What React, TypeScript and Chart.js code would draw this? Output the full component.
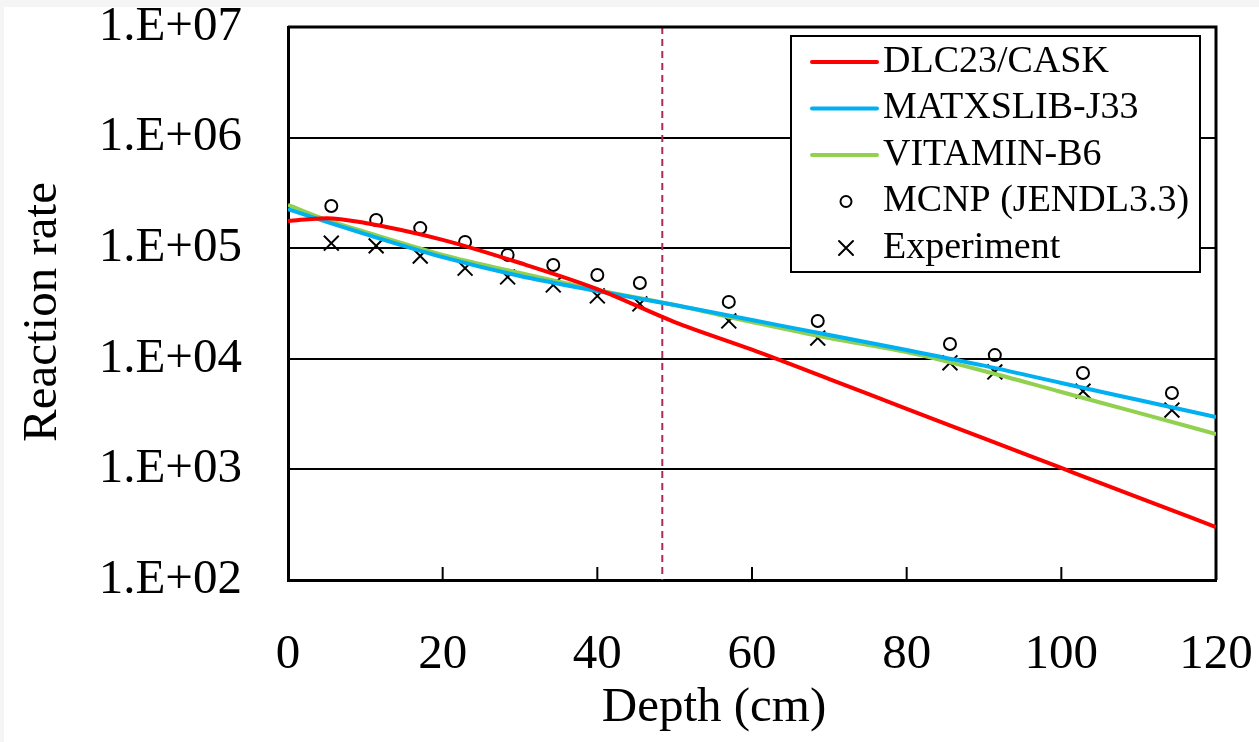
import React, { useEffect, useRef } from 'react';
import { Chart, registerables } from 'chart.js';

Chart.register(...registerables);

// ---------- data ----------
const lineDepths = [0, 5, 10, 20, 30, 40, 50, 60, 70, 80, 90, 100, 110, 120];
const dlc23Cask = [1.76e5, 1.87e5, 1.69e5, 1.19e5, 7.35e4, 4.27e4, 2.15e4, 1.21e4, 6.56e3, 3.53e3, 1.91e3, 1.03e3, 556, 301];
const matxslibJ33 = [2.26e5, 1.73e5, 1.34e5, 8.3e4, 5.6e4, 4.1e4, 3.06e4, 2.24e4, 1.64e4, 1.2e4, 8.67e3, 6.04e3, 4.24e3, 2.98e3];
const vitaminB6 = [2.46e5, 1.8e5, 1.4e5, 8.7e4, 5.97e4, 4.19e4, 3.06e4, 2.15e4, 1.54e4, 1.15e4, 7.76e3, 5.01e3, 3.24e3, 2.09e3];

const pointDepths = [5.6, 11.4, 17.1, 22.9, 28.4, 34.3, 40.0, 45.5, 57.0, 68.5, 85.6, 91.4, 102.8, 114.3];
const mcnpJendl33 = [2.41e5, 1.8e5, 1.52e5, 1.14e5, 8.7e4, 7.05e4, 5.73e4, 4.84e4, 3.27e4, 2.2e4, 1.36e4, 1.08e4, 7.45e3, 4.91e3];
const experiment = [1.11e5, 1.05e5, 8.5e4, 6.6e4, 5.5e4, 4.65e4, 3.7e4, 3.13e4, 2.2e4, 1.54e4, 9.2e3, 7.6e3, 5.1e3, 3.44e3];

const seriesLabels = ['DLC23/CASK', 'MATXSLIB-J33', 'VITAMIN-B6', 'MCNP (JENDL3.3)', 'Experiment'];
const xTicks = [0, 20, 40, 60, 80, 100, 120];
const yTicks = [1e2, 1e3, 1e4, 1e5, 1e6, 1e7];
const yTickLabels = ['1.E+02', '1.E+03', '1.E+04', '1.E+05', '1.E+06', '1.E+07'];
const dividerDepth = 48.4;
const xTitle = 'Depth (cm)';
const yTitle = 'Reaction rate';

// ---------- style ----------
const FONT = '"Liberation Serif", "Times New Roman", Times, serif';
const W = 1255;
const H = 735;

const toXY = (xs: number[], ys: number[]) => xs.map((x, i) => ({ x, y: ys[i] }));

const decorPlugin = {
  id: 'decor',
  beforeDatasetsDraw(chart: any) {
    const { ctx, chartArea: a, scales } = chart;
    const xs = scales.x;
    ctx.save();
    // dashed divider
    const px = xs.getPixelForValue(dividerDepth);
    ctx.strokeStyle = '#b0285c';
    ctx.lineWidth = 2;
    ctx.setLineDash([7, 5]);
    ctx.beginPath();
    ctx.moveTo(px, a.top);
    ctx.lineTo(px, a.bottom);
    ctx.stroke();
    ctx.setLineDash([]);
    // inward tick marks
    ctx.strokeStyle = '#000';
    ctx.lineWidth = 2;
    xTicks.forEach((v) => {
      const p = xs.getPixelForValue(v);
      ctx.beginPath();
      ctx.moveTo(p, a.bottom);
      ctx.lineTo(p, a.bottom - 13);
      ctx.stroke();
    });
    // top and right frame
    ctx.lineWidth = 3;
    ctx.beginPath();
    ctx.moveTo(a.left, a.top);
    ctx.lineTo(a.right, a.top);
    ctx.lineTo(a.right, a.bottom);
    ctx.stroke();
    ctx.restore();
  },
  afterDraw(chart: any) {
    const { ctx, chartArea: a } = chart;
    ctx.save();
    // axis titles
    ctx.fillStyle = '#000';
    ctx.font = `49px ${FONT}`;
    ctx.textAlign = 'center';
    ctx.textBaseline = 'middle';
    ctx.fillText(xTitle, 710, 701);
    ctx.save();
    ctx.translate(39, 305);
    ctx.rotate(-Math.PI / 2);
    ctx.fillText(yTitle, 0, 0);
    ctx.restore();

    // legend
    const lx = a.right - 425;
    const ly = a.top + 9;
    const lw = 409;
    const lh = 236;
    ctx.fillStyle = '#fff';
    ctx.fillRect(lx, ly, lw, lh);
    ctx.strokeStyle = '#000';
    ctx.lineWidth = 2;
    ctx.strokeRect(lx, ly, lw, lh);
    ctx.font = `38px ${FONT}`;
    ctx.textAlign = 'left';
    ctx.textBaseline = 'middle';
    chart.data.datasets.forEach((ds: any, i: number) => {
      const ry = ly + 26 + i * 46.5;
      if (ds.showLine !== false) {
        ctx.strokeStyle = ds.borderColor;
        ctx.lineWidth = 4;
        ctx.lineCap = 'round';
        ctx.beginPath();
        ctx.moveTo(lx + 21, ry);
        ctx.lineTo(lx + 86, ry);
        ctx.stroke();
      } else if (ds.pointStyle === 'circle') {
        ctx.strokeStyle = '#000';
        ctx.lineWidth = 2;
        ctx.beginPath();
        ctx.arc(lx + 55, ry, 5.5, 0, Math.PI * 2);
        ctx.stroke();
      } else {
        ctx.strokeStyle = '#000';
        ctx.lineWidth = 2;
        const d = 7;
        ctx.beginPath();
        ctx.moveTo(lx + 55 - d, ry - d);
        ctx.lineTo(lx + 55 + d, ry + d);
        ctx.moveTo(lx + 55 + d, ry - d);
        ctx.lineTo(lx + 55 - d, ry + d);
        ctx.stroke();
      }
      ctx.fillStyle = '#000';
      ctx.fillText(ds.label, lx + 92, ry);
    });
    ctx.restore();
  },
};

export default function App() {
  const ref = useRef<HTMLCanvasElement | null>(null);

  useEffect(() => {
    if (!ref.current) return;
    const lineBase = {
      showLine: true,
      borderWidth: 4,
      pointRadius: 0,
      fill: false,
      cubicInterpolationMode: 'monotone' as const,
    };
    const chart = new Chart(ref.current, {
      type: 'scatter',
      data: {
        datasets: [
          { ...lineBase, label: seriesLabels[0], data: toXY(lineDepths, dlc23Cask), borderColor: '#ff0000', backgroundColor: '#ff0000' },
          { ...lineBase, label: seriesLabels[1], data: toXY(lineDepths, matxslibJ33), borderColor: '#00b0f0', backgroundColor: '#00b0f0' },
          { ...lineBase, label: seriesLabels[2], data: toXY(lineDepths, vitaminB6), borderColor: '#92d050', backgroundColor: '#92d050' },
          {
            label: seriesLabels[3],
            data: toXY(pointDepths, mcnpJendl33),
            showLine: false,
            pointStyle: 'circle',
            pointRadius: 6,
            pointBorderWidth: 2,
            pointBorderColor: '#000',
            pointBackgroundColor: 'rgba(0,0,0,0)',
            borderColor: '#000',
            backgroundColor: 'rgba(0,0,0,0)',
          },
          {
            label: seriesLabels[4],
            data: toXY(pointDepths, experiment),
            showLine: false,
            pointStyle: 'crossRot',
            pointRadius: 10.5,
            pointBorderWidth: 2,
            pointBorderColor: '#000',
            borderColor: '#000',
            backgroundColor: '#000',
          },
        ],
      },
      options: {
        animation: false,
        responsive: false,
        devicePixelRatio: 1,
        events: [],
        layout: { padding: { left: 0, top: 20, right: 43, bottom: 0 } },
        plugins: {
          legend: { display: false },
          tooltip: { enabled: false },
          title: { display: false },
        },
        scales: {
          x: {
            type: 'linear',
            min: 0,
            max: 120,
            afterBuildTicks: (axis: any) => {
              axis.ticks = xTicks.map((v) => ({ value: v }));
            },
            afterFit: (axis: any) => {
              axis.height = 162;
              axis.paddingLeft = 0;
              axis.paddingRight = 0;
              axis.paddingTop = 0;
              axis.paddingBottom = 0;
            },
            grid: { display: false, drawTicks: false },
            border: { display: true, color: '#000', width: 3 },
            ticks: {
              color: '#000',
              padding: 46,
              maxRotation: 0,
              autoSkip: false,
              font: { family: FONT, size: 49 },
            },
            title: { display: false },
          },
          y: {
            type: 'logarithmic',
            min: 1e2,
            max: 1e7,
            afterBuildTicks: (axis: any) => {
              axis.ticks = yTicks.map((v) => ({ value: v }));
            },
            afterFit: (axis: any) => {
              axis.width = 284;
              axis.paddingLeft = 0;
              axis.paddingRight = 0;
              axis.paddingTop = 0;
              axis.paddingBottom = 0;
            },
            grid: { color: '#000', lineWidth: 2, drawTicks: false },
            border: { display: true, color: '#000', width: 3 },
            ticks: {
              color: '#000',
              padding: 46,
              autoSkip: false,
              font: { family: FONT, size: 49 },
              callback: (value: any) => {
                const i = yTicks.indexOf(Number(value));
                return i >= 0 ? yTickLabels[i] : '';
              },
            },
            title: { display: false },
          },
        },
      },
      plugins: [decorPlugin],
    } as any);
    return () => chart.destroy();
  }, []);

  return (
    <div style={{ position: 'fixed', left: 0, top: 0, right: 0, bottom: 0, background: '#f5f5f5' }}>
      <canvas
        ref={ref}
        width={W}
        height={H}
        style={{ position: 'absolute', left: 4, top: 7, width: W, height: H, background: '#fff' }}
      />
    </div>
  );
}
